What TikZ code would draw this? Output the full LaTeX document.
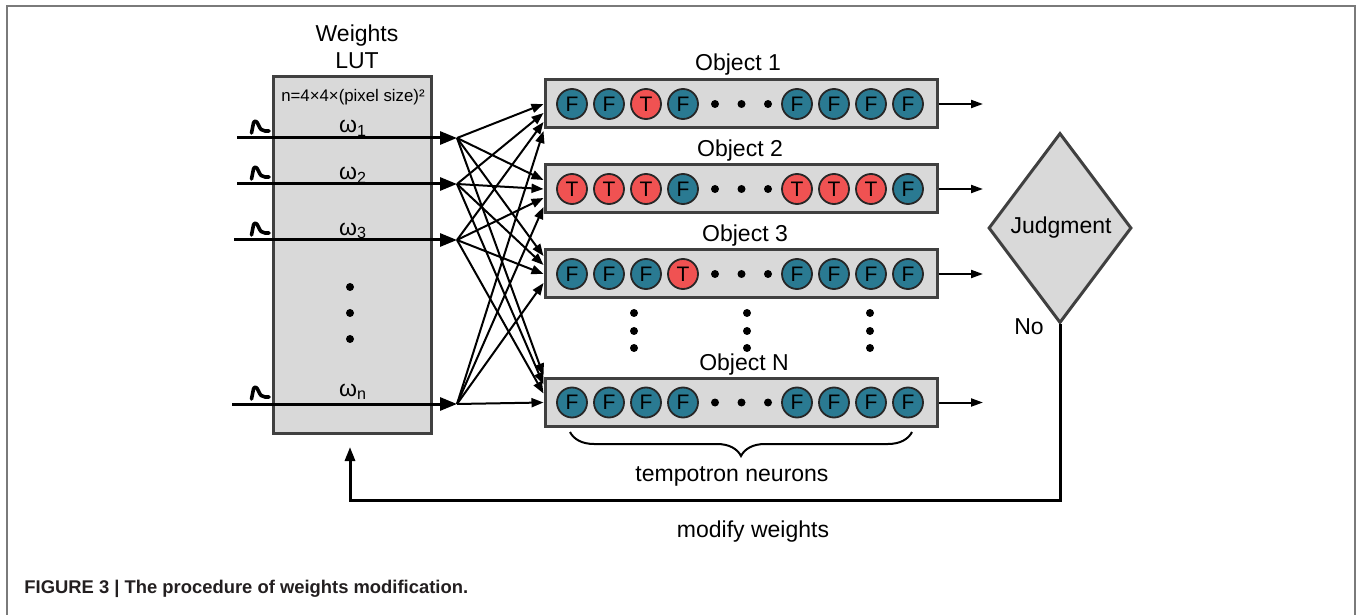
\documentclass[tikz,border=0pt]{standalone}
\usepackage{fontspec}
\setmainfont{Liberation Sans}
\usetikzlibrary{arrows.meta,shapes.geometric,decorations.pathreplacing,calc}
\definecolor{boxfill}{HTML}{D9D9D9}
\definecolor{boxline}{HTML}{404040}
\definecolor{nteal}{HTML}{2A7A92}
\definecolor{nred}{HTML}{F05252}
\definecolor{framegray}{HTML}{7A7A7A}
\definecolor{captext}{HTML}{231F20}
\begin{document}
\begin{tikzpicture}[x=0.5pt,y=-0.5pt,
  lbl/.style={font=\fontsize{11.5}{13}\selectfont, inner sep=0, anchor=base},
  lut/.style={draw=boxline, fill=boxfill, line width=1.5pt, minimum width=79pt, minimum height=178pt, inner sep=0},
  objbox/.style={draw=boxline, fill=boxfill, line width=1.5pt, minimum width=196pt, minimum height=24pt, inner sep=0},
  neu/.style={circle, draw=black!85, line width=0.9pt, minimum size=15pt, inner sep=0, font=\fontsize{10.5}{12}\selectfont},
  neuF/.style={neu, fill=nteal},
  neuT/.style={neu, fill=nred},
  dotn/.style={circle, fill=black, minimum size=4pt, inner sep=0},
  inarrow/.style={line width=1.5pt, -{Triangle[length=8.5pt,width=6.5pt]}},
  fanarrow/.style={line width=1pt, -{Triangle[length=6pt,width=4.5pt]}},
  outarrow/.style={line width=1pt, -{Triangle[length=6pt,width=4pt]}},
  spike/.style={line width=1.8pt, line cap=round, line join=round},
]
\useasboundingbox (0,0) rectangle (1357,615);
% frame
\draw[framegray, line width=1pt] (7,615) -- (7,6) -- (1355,6) -- (1355,615);

% LUT
\node[lbl] (wlab) at (357,42) {Weights};
\node[lbl] (lutlab) at (357,69) {LUT};
\node[lut] (lut) at (352,255) {};
\node[font=\fontsize{8.4}{10}\selectfont, inner sep=0, anchor=base] (nform) at (353,102) {n=4×4×(pixel size)²};
\node[lbl] (w1) at (353,133) {ω\textsubscript{1}};
\node[lbl] (w2) at (353,180) {ω\textsubscript{2}};
\node[lbl] (w3) at (353,235) {ω\textsubscript{3}};
\node[lbl] (wn) at (353,396) {ω\textsubscript{n}};
\foreach \yy [count=\m] in {287,313,339}
  \node[dotn] (ld\m) at (350,\yy) {};

% input lines and spikes
\foreach \i/\xs/\L in {1/237/138,2/237/184,3/234/240,4/232/404}{
  \coordinate (in\i) at (\xs,\L);
  \coordinate (s\i) at (457,\L);
  \draw[inarrow] (in\i) -- (s\i);
  \draw[spike] (251.5,\L-5) -- (253.5,\L-15)
    .. controls (254.5,\L-18) and (257,\L-17) .. (258.5,\L-13)
    .. controls (260,\L-9) and (262,\L-7) .. (265,\L-7) -- (269,\L-7);
}

% object boxes
\foreach \j/\yy in {1/104,2/189,3/274,4/402.5}{
  \node[objbox] (ob\j) at (741,\yy) {};
  \coordinate (o\j) at (983,\yy);
  \draw[outarrow] (ob\j.east) -- (o\j);
  \foreach \xx [count=\m] in {715,741.5,768}
    \node[dotn] (rd\j-\m) at (\xx,\yy) {};
}
\node[lbl] (olab1) at (738,71) {Object 1};
\node[lbl] (olab2) at (740,157) {Object 2};
\node[lbl] (olab3) at (745,242) {Object 3};
\node[lbl] (olab4) at (744,371) {Object N};

% neurons
\foreach \k/\xx/\L in {1/572/F,2/609/F,3/646/T,4/683/F,5/797/F,6/834/F,7/871/F,8/908/F}
  \node[neu\L] (n1-\k) at (\xx,104) {\L};
\foreach \k/\xx/\L in {1/572/T,2/609/T,3/646/T,4/683/F,5/797/T,6/834/T,7/871/T,8/908/F}
  \node[neu\L] (n2-\k) at (\xx,189) {\L};
\foreach \k/\xx/\L in {1/572/F,2/609/F,3/646/F,4/683/T,5/797/F,6/834/F,7/871/F,8/908/F}
  \node[neu\L] (n3-\k) at (\xx,274) {\L};
\foreach \k/\xx/\L in {1/572/F,2/609/F,3/646/F,4/683/F,5/797/F,6/834/F,7/871/F,8/908/F}
  \node[neu\L] (n4-\k) at (\xx,402.5) {\L};

% vertical dots
\foreach \xx [count=\c] in {634,747,870}
  \foreach \yy [count=\r] in {313,331,348}
    \node[dotn] (vd\c-\r) at (\xx,\yy) {};

% fan connections
\foreach \i in {1,...,4}
  \foreach \j in {1,...,4}
    \draw[fanarrow] (s\i) -- ([yshift={(\j-\i)*4.5pt}]ob\j.west);

% brace
\coordinate (br1) at (570,432);
\coordinate (br2) at (912,432);
\draw[line width=1pt, decorate, decoration={brace, mirror, amplitude=12pt}] (br1) -- (br2);
\node[lbl] (tn) at (732,481) {tempotron neurons};

% judgment
\node[diamond, draw=boxline, fill=boxfill, line width=1.5pt, minimum width=71.5pt, minimum height=95pt, inner sep=0] (judg) at (1060,228) {};
\node[lbl] (judgtxt) at (1061,234) {Judgment};
\node[lbl] (no) at (1029,335) {No};

% feedback
\coordinate (fb1) at (350,500);
\coordinate (fbend) at (350,447);
\draw[line width=1.5pt, -{Triangle[length=7pt,width=5pt]}] (judg.south) |- (fb1) -- (fbend);
\node[lbl] (mw) at (753,537) {modify weights};

% caption
\node[font=\fontsize{9.2}{11}\selectfont\bfseries, text=captext, inner sep=0, anchor=base west] (cap) at (24,593) {FIGURE 3 | The procedure of weights modification.};
\end{tikzpicture}
\end{document}
